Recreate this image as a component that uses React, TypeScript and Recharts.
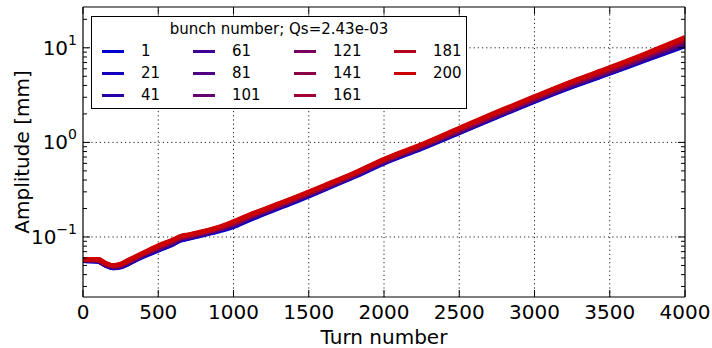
import React from "react";
import {
  LineChart,
  Line,
  XAxis,
  YAxis,
  ReferenceLine,
  Legend,
  Label,
} from "recharts";

// turn samples (x)
const turns = [
  0, 100, 150, 200, 250, 300, 400, 500, 600, 650, 700, 800, 900, 1000, 1100, 1200,
  1400, 1600, 1800, 2000, 2250, 2500, 2750, 3000, 3250, 3500, 3750, 4000,
];

const bunchIds = ["1", "21", "41", "61", "81", "101", "121", "141", "161", "181", "200"];

const bunchColors = [
  "#0000d0", "#1400bc", "#2800a6", "#3c0094", "#500082", "#640070",
  "#78005c", "#8c0048", "#a00032", "#b4001c", "#cc0000",
];

// amplitude [mm] per bunch
const amp1 = [0.056, 0.055, 0.05, 0.047, 0.048, 0.052, 0.062, 0.072, 0.084, 0.092, 0.096, 0.105, 0.115, 0.128, 0.15, 0.174, 0.232, 0.315, 0.43, 0.6, 0.86, 1.26, 1.85, 2.7, 3.85, 5.35, 7.5, 10.4];
const amp21 = [0.056, 0.055, 0.05, 0.047, 0.048, 0.052, 0.063, 0.073, 0.085, 0.093, 0.097, 0.106, 0.117, 0.13, 0.152, 0.177, 0.236, 0.32, 0.435, 0.61, 0.87, 1.27, 1.87, 2.73, 3.9, 5.4, 7.6, 10.6];
const amp41 = [0.057, 0.055, 0.05, 0.048, 0.049, 0.053, 0.063, 0.074, 0.086, 0.094, 0.098, 0.107, 0.118, 0.132, 0.155, 0.179, 0.238, 0.322, 0.44, 0.615, 0.88, 1.28, 1.89, 2.76, 3.95, 5.5, 7.7, 10.8];
const amp61 = [0.057, 0.056, 0.051, 0.048, 0.049, 0.053, 0.064, 0.075, 0.087, 0.095, 0.099, 0.108, 0.119, 0.133, 0.157, 0.181, 0.241, 0.325, 0.445, 0.62, 0.89, 1.3, 1.91, 2.79, 4.0, 5.55, 7.8, 11.0];
const amp81 = [0.057, 0.056, 0.051, 0.049, 0.05, 0.054, 0.065, 0.076, 0.088, 0.096, 0.1, 0.109, 0.12, 0.135, 0.158, 0.183, 0.243, 0.328, 0.448, 0.625, 0.895, 1.31, 1.93, 2.82, 4.05, 5.6, 7.95, 11.3];
const amp101 = [0.057, 0.056, 0.051, 0.049, 0.05, 0.054, 0.065, 0.076, 0.089, 0.097, 0.101, 0.11, 0.121, 0.136, 0.16, 0.185, 0.245, 0.33, 0.45, 0.63, 0.9, 1.32, 1.95, 2.85, 4.1, 5.7, 8.1, 11.6];
const amp121 = [0.058, 0.057, 0.052, 0.049, 0.05, 0.055, 0.066, 0.077, 0.09, 0.098, 0.102, 0.111, 0.122, 0.138, 0.162, 0.187, 0.248, 0.334, 0.455, 0.64, 0.915, 1.34, 1.98, 2.9, 4.17, 5.8, 8.25, 11.8];
const amp141 = [0.058, 0.057, 0.052, 0.05, 0.051, 0.055, 0.066, 0.078, 0.091, 0.099, 0.103, 0.112, 0.124, 0.14, 0.164, 0.19, 0.251, 0.338, 0.46, 0.645, 0.925, 1.36, 2.01, 2.94, 4.23, 5.9, 8.4, 12.1];
const amp161 = [0.058, 0.057, 0.052, 0.05, 0.051, 0.056, 0.067, 0.079, 0.092, 0.1, 0.104, 0.113, 0.125, 0.142, 0.166, 0.192, 0.254, 0.342, 0.465, 0.65, 0.935, 1.38, 2.04, 2.98, 4.3, 6.0, 8.55, 12.3];
const amp181 = [0.058, 0.058, 0.053, 0.05, 0.051, 0.056, 0.067, 0.08, 0.093, 0.101, 0.105, 0.114, 0.126, 0.144, 0.168, 0.194, 0.257, 0.346, 0.47, 0.66, 0.945, 1.4, 2.07, 3.02, 4.36, 6.1, 8.7, 12.6];
const amp200 = [0.058, 0.058, 0.053, 0.05, 0.052, 0.057, 0.068, 0.081, 0.094, 0.102, 0.106, 0.115, 0.127, 0.146, 0.17, 0.196, 0.26, 0.35, 0.475, 0.665, 0.955, 1.42, 2.1, 3.06, 4.42, 6.2, 8.85, 12.9];

const ampSeries = [amp1, amp21, amp41, amp61, amp81, amp101, amp121, amp141, amp161, amp181, amp200];

const xTicks = [0, 500, 1000, 1500, 2000, 2500, 3000, 3500, 4000];
const yDecades = [0.1, 1, 10];
const yTicks = [
  0.03, 0.04, 0.05, 0.06, 0.07, 0.08, 0.09,
  0.1, 0.2, 0.3, 0.4, 0.5, 0.6, 0.7, 0.8, 0.9,
  1, 2, 3, 4, 5, 6, 7, 8, 9,
  10, 20,
];

const data = turns.map((t, i) => {
  const row: Record<string, number> = { turn: t };
  bunchIds.forEach((id, k) => {
    row["b" + id] = ampSeries[k][i];
  });
  return row;
});

const FONT = "'DejaVu Sans', sans-serif";

const isDecade = (v: number) => yDecades.some((d) => Math.abs(d - v) < 1e-9);

const LeftTick = (props: any) => {
  const { x, y, payload } = props;
  const v = payload.value;
  const major = isDecade(v);
  const exp = Math.round(Math.log10(v));
  return (
    <g>
      <line x1={x} x2={x + (major ? 7 : 4)} y1={y} y2={y} stroke="#000" />
      {major && (
        <text x={x - 6} y={y + 7} textAnchor="end" fontSize={20} fontFamily={FONT} fill="#000">
          10
          <tspan dy={-10} fontSize={14}>
            {exp < 0 ? "\u2212" + Math.abs(exp) : String(exp)}
          </tspan>
        </text>
      )}
    </g>
  );
};

const RightTick = (props: any) => {
  const { x, y, payload } = props;
  const major = isDecade(payload.value);
  return <line x1={x} x2={x - (major ? 7 : 4)} y1={y} y2={y} stroke="#000" />;
};

const BottomTick = (props: any) => {
  const { x, y, payload } = props;
  return (
    <g>
      <line x1={x} x2={x} y1={y} y2={y - 7} stroke="#000" />
      <text x={x} y={y + 22} textAnchor="middle" fontSize={20} fontFamily={FONT} fill="#000">
        {payload.value}
      </text>
    </g>
  );
};

const TopTick = (props: any) => {
  const { x, y } = props;
  return <line x1={x} x2={x} y1={y} y2={y + 7} stroke="#000" />;
};

const legendCols = [
  { line: 10, text: 49 },
  { line: 101, text: 140 },
  { line: 202, text: 241 },
  { line: 302, text: 341 },
];

const BunchLegend = () => (
  <div
    style={{
      position: "relative",
      width: 374,
      height: 91,
      border: "1px solid #000",
      background: "#fff",
      fontFamily: FONT,
      fontSize: 15,
      color: "#000",
    }}
  >
    <div style={{ position: "absolute", top: 3, left: 0, width: 374, textAlign: "center", lineHeight: "18px" }}>
      bunch number; Qs=2.43e-03
    </div>
    {bunchIds.map((id, k) => {
      const col = Math.floor(k / 3);
      const row = k % 3;
      const cy = 34 + row * 22;
      return (
        <React.Fragment key={id}>
          <div
            style={{
              position: "absolute",
              left: legendCols[col].line,
              top: cy - 1.5,
              width: 22,
              height: 3,
              background: bunchColors[k],
            }}
          />
          <div style={{ position: "absolute", left: legendCols[col].text, top: cy - 9, lineHeight: "18px" }}>
            {id}
          </div>
        </React.Fragment>
      );
    })}
  </div>
);

export default function App() {
  return (
    <div style={{ position: "absolute", left: 0, top: 0, width: 712, height: 348, background: "#fff" }}>
      <LineChart width={712} height={348} data={data} margin={{ top: 6, right: 0, bottom: 0, left: 0 }}>
        <XAxis
          dataKey="turn"
          type="number"
          domain={[0, 4000]}
          ticks={xTicks}
          allowDataOverflow
          height={51}
          tickSize={0}
          tickMargin={0}
          tick={<BottomTick />}
          axisLine={{ stroke: "#000", strokeWidth: 1.2 }}
          interval={0}
        >
          <Label
            value="Turn number"
            position="insideBottom"
            offset={4}
            style={{ fontSize: 20, fontFamily: FONT, fill: "#000" }}
          />
        </XAxis>
        <XAxis
          xAxisId="top"
          orientation="top"
          dataKey="turn"
          type="number"
          domain={[0, 4000]}
          ticks={xTicks}
          allowDataOverflow
          height={1}
          tickSize={0}
          tickMargin={0}
          tick={<TopTick />}
          axisLine={{ stroke: "#000", strokeWidth: 1.2 }}
          interval={0}
        />
        <YAxis
          scale="log"
          type="number"
          domain={[0.0232, 27]}
          ticks={yTicks}
          allowDataOverflow
          width={83}
          tickSize={0}
          tickMargin={0}
          tick={<LeftTick />}
          axisLine={{ stroke: "#000", strokeWidth: 1.2 }}
          interval={0}
        >
          <Label
            value="Amplitude [mm]"
            angle={-90}
            position="insideLeft"
            offset={22}
            style={{ fontSize: 20, fontFamily: FONT, fill: "#000", textAnchor: "middle" }}
          />
        </YAxis>
        <YAxis
          yAxisId="right"
          orientation="right"
          scale="log"
          type="number"
          domain={[0.0232, 27]}
          ticks={yTicks}
          allowDataOverflow
          width={27}
          tickSize={0}
          tickMargin={0}
          tick={<RightTick />}
          axisLine={{ stroke: "#000", strokeWidth: 1.2 }}
          interval={0}
        />
        {xTicks.slice(1, -1).map((t) => (
          <ReferenceLine key={"vx" + t} x={t} stroke="#222" strokeDasharray="1.2 3" strokeWidth={1} />
        ))}
        {yDecades.map((v) => (
          <ReferenceLine key={"hy" + v} y={v} stroke="#222" strokeDasharray="1.2 3" strokeWidth={1} />
        ))}
        {bunchIds.map((id, k) => {
          const last = k === bunchIds.length - 1;
          return (
            <Line
              key={id}
              dataKey={"b" + id}
              xAxisId={last ? "top" : 0}
              yAxisId={last ? "right" : 0}
              type="monotone"
              stroke={bunchColors[k]}
              strokeWidth={4.5}
              dot={false}
              activeDot={false}
              isAnimationActive={false}
            />
          );
        })}
        <Legend
          layout="vertical"
          align="center"
          verticalAlign="middle"
          wrapperStyle={{ left: 91, top: 16, width: 376, height: 93 }}
          content={() => <BunchLegend />}
        />
      </LineChart>
    </div>
  );
}
